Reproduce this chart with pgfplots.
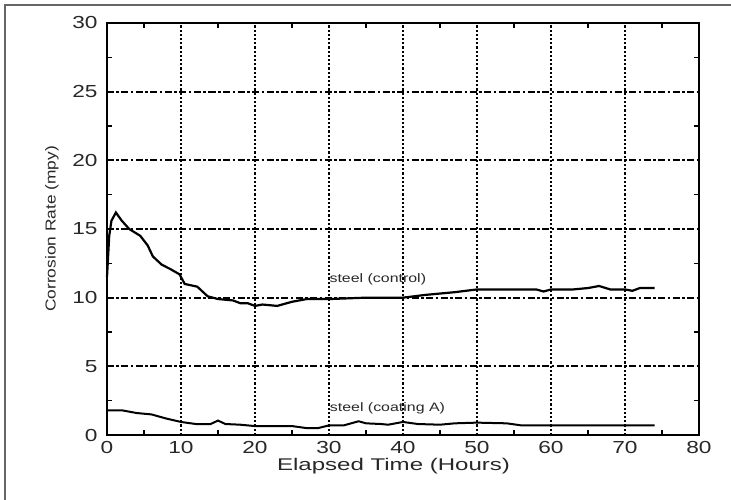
\documentclass[border=0pt]{standalone}
\usepackage{pgfplots}
\pgfplotsset{compat=1.18}
\usepackage{fontspec}
\setmainfont{Liberation Sans}
\newfontfamily\wideA[FakeStretch=1.3]{Liberation Sans}
\newfontfamily\wideB[FakeStretch=1.42]{Liberation Sans}
\newfontfamily\wideC[FakeStretch=1.2]{Liberation Sans}
\definecolor{txt}{RGB}{40,40,40}
\begin{document}
\begin{tikzpicture}
\useasboundingbox (-107bp,-65bp) rectangle (624bp,435bp);
\draw[black!60, line width=1.2bp] (-102bp,-65bp) -- (-102bp,430bp) -- (624bp,430bp);
\begin{axis}[
  at={(0,0)}, anchor=south west,
  scale only axis, width=592bp, height=412bp,
  xmin=0, xmax=80, ymin=0, ymax=30,
  xtick={0,10,...,80}, ytick={0,5,...,30},
  minor xtick={5,15,...,75}, minor ytick={2.5,7.5,...,27.5},
  tick align=inside,
  major tick length=0pt, minor tick length=5bp,
  every minor tick/.style={line width=1.5bp, black},
  axis line style={line width=2.4bp, black},
  /pgf/number format/assume math mode=true,
  tick label style={font=\wideA\fontsize{17.5}{17.5}\selectfont, text=txt},
  xticklabel style={yshift=-3bp},
  yticklabel style={xshift=-6bp},
  xmajorgrids, ymajorgrids,
  x grid style={line width=2.4bp, black, dash pattern=on 2.2bp off 2bp},
  y grid style={line width=2.2bp, black, dash pattern=on 7bp off 2.5bp on 2.5bp off 2.5bp},
  xlabel={Elapsed Time (Hours)},
  ylabel={Corrosion Rate (mpy)},
  xlabel style={at={(axis description cs:0.484,0)}, yshift=-31bp, anchor=center, font=\wideB\fontsize{17}{17}\selectfont, text=txt},
  ylabel style={at={(axis description cs:-0.093,0.5)}, anchor=center, font=\wideC\fontsize{14.5}{14.5}\selectfont, text=txt},
  clip=false,
]
\addplot[black, line width=2.2bp] coordinates {
(0,11.5) (0.3,14.5) (0.6,15.6) (1.2,16.2) (2,15.6) (3,15.0) (4.5,14.5) (5.5,13.8)
(6.2,13.0) (7.4,12.4) (8.5,12.1) (9.8,11.7) (10.5,11.0) (12.2,10.8) (13.6,10.1)
(15,9.9) (17,9.8) (18,9.6) (19,9.6) (20,9.4) (21,9.5) (23,9.4) (25,9.7) (27,9.9)
(30,9.9) (35,10.0) (40,10.0) (43,10.2) (47,10.4) (50,10.6) (55,10.6) (58,10.6)
(59,10.45) (60,10.6) (63,10.6) (65,10.7) (66.5,10.85) (68,10.6) (70,10.6) (71,10.5)
(72,10.7) (74,10.7)
};
\addplot[black, line width=2bp] coordinates {
(0,1.8) (2,1.8) (4,1.6) (6,1.5) (8,1.2) (10,0.95) (12,0.8) (14,0.8) (15,1.05)
(16,0.8) (18,0.75) (20,0.65) (25,0.65) (27,0.5) (28.5,0.5) (30,0.7) (32,0.7)
(34,1.0) (35,0.85) (37,0.8) (38,0.75) (40,0.95) (42,0.8) (45,0.75) (47,0.85)
(50,0.9) (54,0.85) (56,0.7) (60,0.7) (74,0.7)
};
\node[font=\wideA\fontsize{12.3}{12.3}\selectfont, text=txt] at (axis cs:36.6,11.3) {steel (control)};
\node[font=\wideA\fontsize{12.3}{12.3}\selectfont, text=txt] at (axis cs:37.9,1.95) {steel (coating A)};
\end{axis}
\end{tikzpicture}
\end{document}
